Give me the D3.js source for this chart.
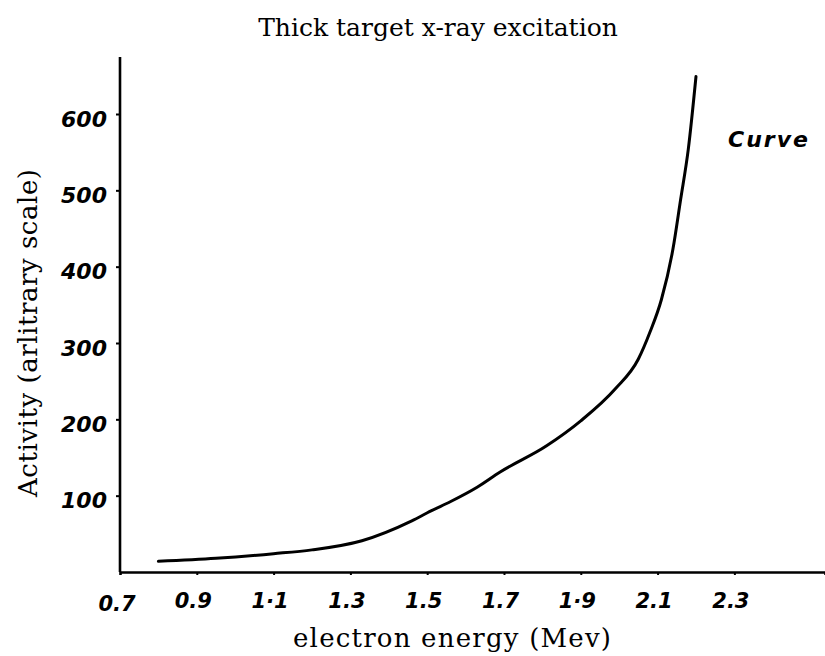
<!DOCTYPE html>
<html>
<head>
<meta charset="utf-8">
<script src="https://cdn.jsdelivr.net/npm/d3@7"></script>
<style>
  body { margin: 0; background: #fff; }
  .hand { font-family: "DejaVu Sans", sans-serif; font-weight: bold; font-style: italic; }
  .serif { font-family: "DejaVu Serif", serif; }
</style>
</head>
<body>
<div id="chart"></div>
<script>
// values
const energy = [0.80, 0.95, 1.10, 1.20, 1.33, 1.46, 1.51, 1.56, 1.63, 1.69, 1.81, 1.90, 1.99, 2.05, 2.08, 2.11, 2.14, 2.16, 2.18, 2.20];
const activity = [14, 18, 24, 29, 41, 67, 80, 92, 111, 131, 165, 198, 240, 279, 314, 357, 423, 488, 554, 649];
const xTicks = [0.7, 0.9, 1.1, 1.3, 1.5, 1.7, 1.9, 2.1, 2.3];
const xTickLabels = ["0.7", "0.9", "1·1", "1.3", "1.5", "1.7", "1·9", "2.1", "2.3"];
const yTicks = [100, 200, 300, 400, 500, 600];

const width = 825, height = 656;
const svg = d3.select("#chart").append("svg")
  .attr("width", width)
  .attr("height", height);

const x = d3.scaleLinear().domain([0.7, 2.536]).range([120, 825]);
const y = d3.scaleLinear().domain([0, 600]).range([572, 114]);

// axes
const xAxis = svg.append("g")
  .attr("transform", `translate(0,${y(0)})`)
  .call(d3.axisBottom(x).tickValues(xTicks).tickSize(3).tickFormat((d, i) => xTickLabels[i]));
xAxis.select(".domain").attr("stroke", "#000").attr("stroke-width", 2.6);
xAxis.selectAll(".tick line").attr("stroke-width", 2);
xAxis.selectAll(".tick text")
  .attr("class", "hand")
  .attr("y", 21)
  .attr("dx", -4)
  .style("font-size", "21px");
xAxis.select(".tick").remove(); // first tick sits on the y axis
svg.append("text")
  .attr("class", "hand")
  .attr("x", x(0.7) - 3)
  .attr("y", y(0) + 39)
  .attr("text-anchor", "middle")
  .style("font-size", "21px")
  .text("0.7");

const yAxis = svg.append("g")
  .attr("transform", `translate(${x(0.7)},0)`)
  .call(d3.axisLeft(y).tickValues(yTicks).tickSize(4).tickPadding(9));
yAxis.select(".domain").attr("stroke", "#000").attr("stroke-width", 2.6)
  .attr("d", `M0,${y(0)}V57`);
yAxis.selectAll(".tick line").attr("stroke-width", 2);
yAxis.selectAll(".tick text")
  .attr("class", "hand")
  .attr("dy", "0.55em")
  .style("font-size", "22px");

// the curve
const pts = energy.map((e, i) => [e, activity[i]]);
svg.append("path")
  .datum(pts)
  .attr("fill", "none")
  .attr("stroke", "#000")
  .attr("stroke-width", 3)
  .attr("stroke-linecap", "round")
  .attr("d", d3.line().x(d => x(d[0])).y(d => y(d[1])).curve(d3.curveMonotoneX));

// labels
svg.append("text")
  .attr("class", "serif")
  .attr("x", 438)
  .attr("y", 36)
  .attr("text-anchor", "middle")
  .style("font-size", "25px")
  .text("Thick target x-ray excitation");

svg.append("text")
  .attr("class", "serif")
  .attr("x", 293)
  .attr("y", 647)
  .attr("textLength", 318)
  .attr("lengthAdjust", "spacing")
  .style("font-size", "26px")
  .text("electron energy (Mev)");

svg.append("text")
  .attr("class", "serif")
  .attr("transform", "translate(37,497) rotate(-90)")
  .attr("textLength", 328)
  .attr("lengthAdjust", "spacing")
  .style("font-size", "26px")
  .text("Activity (arlitrary scale)");

svg.append("text")
  .attr("class", "hand")
  .attr("x", 728)
  .attr("y", 147)
  .attr("textLength", 80)
  .attr("lengthAdjust", "spacing")
  .style("font-size", "22px")
  .text("Curve");
</script>
</body>
</html>
